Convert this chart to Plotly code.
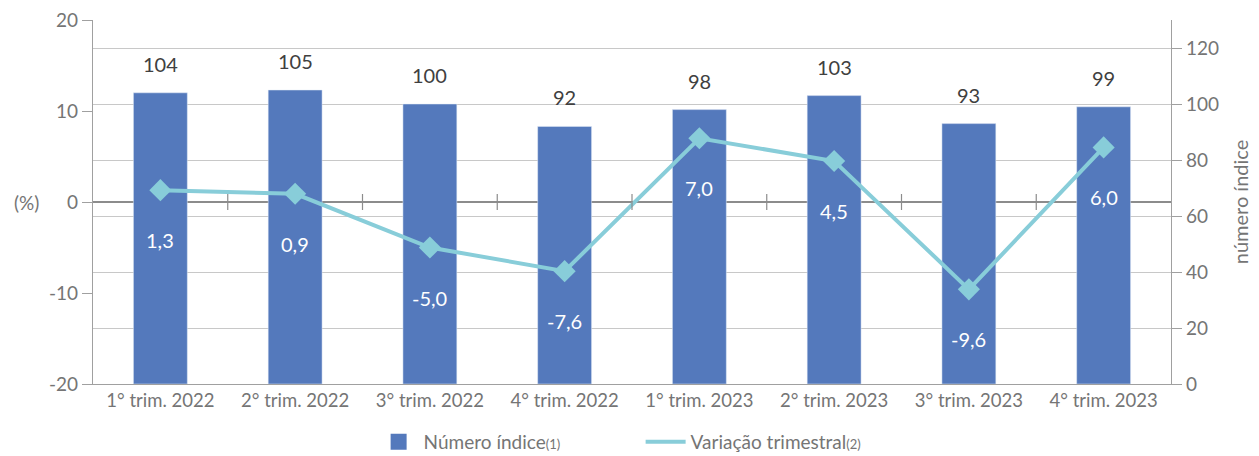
import plotly.graph_objects as go

categories = ["1° trim. 2022", "2° trim. 2022", "3° trim. 2022", "4° trim. 2022",
              "1° trim. 2023", "2° trim. 2023", "3° trim. 2023", "4° trim. 2023"]
indice = [104, 105, 100, 92, 98, 103, 93, 99]
variacao = [1.3, 0.9, -5.0, -7.6, 7.0, 4.5, -9.6, 6.0]
left_ticks = [-20, -10, 0, 10, 20]
right_ticks = [0, 20, 40, 60, 80, 100, 120]

FONT = "Lato"
BAR_C = "#5479BC"
LINE_C = "#88CDD9"
AX_C = "#A0A0A0"
TXT_C = "#757575"

fig = go.Figure()
fig.add_trace(go.Bar(
    x=categories, y=indice, name="Número índice",
    marker=dict(color=BAR_C), width=0.4, yaxis="y", xaxis="x", hoverinfo="skip",
    showlegend=False))
fig.add_trace(go.Scatter(
    x=categories, y=variacao, name="Variação trimestral",
    mode="lines+markers", line=dict(color=LINE_C, width=4),
    marker=dict(symbol="diamond", size=17, color=LINE_C),
    yaxis="y2", xaxis="x", hoverinfo="skip", showlegend=False))
# legend entries
fig.add_trace(go.Scatter(
    x=[None], y=[None], mode="markers", name="Número índice<span style='font-size:13px'>(1)</span>",
    marker=dict(symbol="square", size=21, color=BAR_C), yaxis="y"))
fig.add_trace(go.Scatter(
    x=[None], y=[None], mode="lines", name="Variação trimestral<span style='font-size:13px'>(2)</span>",
    line=dict(color=LINE_C, width=4), yaxis="y2"))

annotations = []
for c, v in zip(categories, indice):
    annotations.append(dict(x=c, y=v, xref="x", yref="y", text=str(v), showarrow=False,
                            yshift=29, font=dict(family=FONT, size=20, color="#404040")))
for c, v in zip(categories, variacao):
    annotations.append(dict(x=c, y=v, xref="x", yref="y2", text=f"{v:.1f}".replace(".", ","),
                            showarrow=False, yshift=-50,
                            font=dict(family=FONT, size=20, color="white")))
annotations.append(dict(x=0, y=0, xref="paper", yref="y2", text="(%)", showarrow=False,
                        xanchor="right", xshift=-52, font=dict(family=FONT, size=19, color=TXT_C)))

shapes = []
for i in range(len(categories) - 1):
    shapes.append(dict(type="line", xref="x", x0=i + 0.5, x1=i + 0.5, yref="y2",
                       ysizemode="pixel", yanchor=0, y0=-8, y1=8,
                       line=dict(color="#8C8C8C", width=1.2)))

fig.update_layout(
    width=1259, height=456,
    margin=dict(l=93, r=88, t=20, b=72, autoexpand=False),
    plot_bgcolor="white", paper_bgcolor="white",
    font=dict(family=FONT, size=18, color=TXT_C),
    showlegend=True,
    legend=dict(orientation="h", x=0.508, xanchor="center", xref="paper",
                yref="paper", y=-0.107, yanchor="top",
                font=dict(family=FONT, size=19, color=TXT_C), itemwidth=40,
                traceorder="normal", entrywidth=212),
    xaxis=dict(range=[-0.5, 7.5], showline=True, linecolor=AX_C, linewidth=1.2,
               ticks="", showgrid=False, tickfont=dict(family=FONT, size=18.5, color=TXT_C)),
    yaxis=dict(side="right", range=[0, 130], tickvals=right_ticks,
               showgrid=True, gridcolor="#C8C8C8", gridwidth=1.2, showline=True,
               linecolor=AX_C, linewidth=1.2, ticks="outside", ticklen=10, tickcolor=AX_C,
               zeroline=False, tickfont=dict(family=FONT, size=19, color=TXT_C),
               title=dict(text="número índice", standoff=16,
                          font=dict(family=FONT, size=20, color=TXT_C))),
    yaxis2=dict(side="left", overlaying="y", range=[-20, 20], tickvals=left_ticks,
                ticktext=[str(t) for t in left_ticks],
                showgrid=False, showline=True, linecolor=AX_C, linewidth=1.2,
                ticks="outside", ticklen=10, tickcolor=AX_C,
                zeroline=True, zerolinecolor="#8C8C8C", zerolinewidth=1.5,
                tickfont=dict(family=FONT, size=19, color=TXT_C)),
    annotations=annotations,
    shapes=shapes,
)

fig.write_html("out.html")
